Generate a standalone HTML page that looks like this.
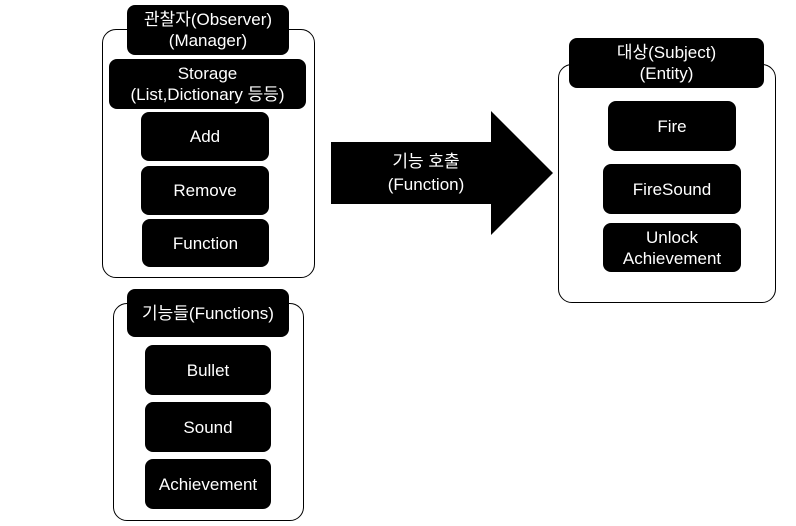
<!DOCTYPE html>
<html><head><meta charset="utf-8"><style>
body{margin:0;width:796px;height:526px;background:#fff;position:relative;overflow:hidden;font-family:"Liberation Sans","Noto Sans CJK KR",sans-serif;}
.o{position:absolute;border:1px solid #000;border-radius:14px;background:#fff;box-sizing:border-box;}
.b{position:absolute;background:#000;color:#fff;border-radius:8px;display:flex;align-items:center;justify-content:center;text-align:center;font-size:17px;line-height:21px;box-sizing:border-box;}
</style></head><body>
<div class="o" style="left:102px;top:29px;width:213px;height:249px"></div>
<div class="b" style="left:127px;top:5px;width:162px;height:50px">관찰자(Observer)<br>(Manager)</div>
<div class="b" style="left:109px;top:59px;width:197px;height:50px">Storage<br>(List,Dictionary 등등)</div>
<div class="b" style="left:141px;top:112px;width:128px;height:49px">Add</div>
<div class="b" style="left:141px;top:166px;width:128px;height:49px">Remove</div>
<div class="b" style="left:142px;top:219px;width:127px;height:48px">Function</div>

<div class="o" style="left:113px;top:303px;width:191px;height:218px"></div>
<div class="b" style="left:127px;top:289px;width:162px;height:48px">기능들(Functions)</div>
<div class="b" style="left:145px;top:345px;width:126px;height:50px">Bullet</div>
<div class="b" style="left:145px;top:402px;width:126px;height:50px">Sound</div>
<div class="b" style="left:145px;top:459px;width:126px;height:50px">Achievement</div>

<svg style="position:absolute;left:0;top:0" width="796" height="526">
<polygon points="331,142 491,142 491,111 553,173 491,235 491,204 331,204" fill="#000"/>
<text x="426" y="167" fill="#fff" font-size="17" text-anchor="middle" font-family="Liberation Sans, Noto Sans CJK KR, sans-serif">기능 호출</text>
<text x="426" y="190" fill="#fff" font-size="17" text-anchor="middle" font-family="Liberation Sans, Noto Sans CJK KR, sans-serif">(Function)</text>
</svg>

<div class="o" style="left:558px;top:64px;width:218px;height:239px"></div>
<div class="b" style="left:569px;top:38px;width:195px;height:50px">대상(Subject)<br>(Entity)</div>
<div class="b" style="left:608px;top:101px;width:128px;height:50px">Fire</div>
<div class="b" style="left:603px;top:164px;width:138px;height:50px">FireSound</div>
<div class="b" style="left:603px;top:223px;width:138px;height:49px">Unlock<br>Achievement</div>
</body></html>
